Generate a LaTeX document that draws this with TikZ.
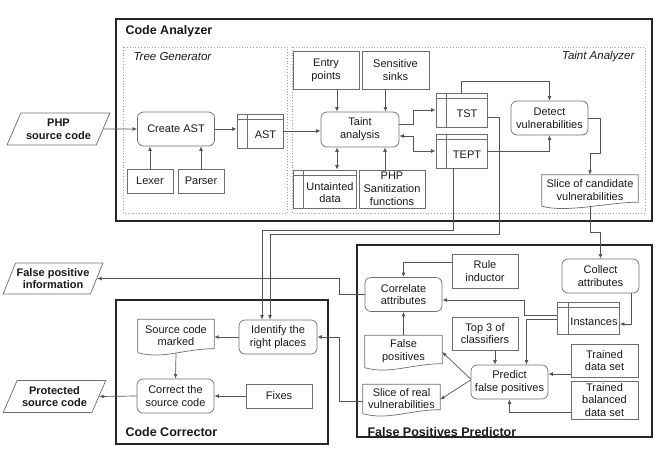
\documentclass[tikz,border=0pt]{standalone}
\usepackage{fontspec}
\setmainfont{Liberation Sans}
\usetikzlibrary{arrows.meta,shapes.geometric}

\definecolor{linegray}{HTML}{555555}
\definecolor{boxgray}{HTML}{6E6E6E}

\newcommand{\docshape}[1]{%
  \draw[boxgray, line width=0.7pt] (#1.north west) -- (#1.north east) -- ([yshift=3pt]#1.south east)
    .. controls ([xshift=-30pt,yshift=3pt]#1.south east) and ([xshift=25pt,yshift=-8pt]#1.south west)
    .. ([yshift=-1pt]#1.south west) -- cycle;}

\begin{document}
\begin{tikzpicture}[x=1pt, y=-1pt,
	every node/.style={font=\fontsize{11}{12.8}\selectfont, text=black!90},
	proc/.style={draw=boxgray, line width=0.7pt, rounded corners=6pt, align=center, minimum width=77pt, minimum height=34pt, inner sep=1pt},
	box/.style={draw=boxgray, line width=0.7pt, align=center, inner sep=1pt},
	store/.style={draw=boxgray, line width=0.7pt, inner sep=0pt, path picture={
		\draw[boxgray, line width=0.7pt] ([yshift=-5.5pt]path picture bounding box.north west) -- ([yshift=-5.5pt]path picture bounding box.north east)
		([xshift=10.5pt]path picture bounding box.north west) -- ([xshift=10.5pt]path picture bounding box.south west);}},
	storetext/.style={xshift=5.5pt, yshift=-3.5pt, align=center},
	doc/.style={align=center, inner sep=1pt},
	inout/.style={draw=boxgray, line width=0.7pt, trapezium, trapezium left angle=60, trapezium right angle=120, trapezium stretches=true, minimum width=103pt, minimum height=32pt, align=center, inner sep=0pt, font=\bfseries\fontsize{11}{12.8}\selectfont},
	group/.style={draw=black!85, line width=1.1pt},
	subgroup/.style={draw=gray!75, dotted, line width=0.8pt},
	title/.style={anchor=west, font=\bfseries\fontsize{12.5}{14}\selectfont},
	subtitle/.style={font=\itshape\fontsize{11.5}{13}\selectfont},
	arr/.style={draw=linegray, line width=0.7pt, -{Latex[length=4.5pt,width=3.8pt]}},
	darr/.style={draw=linegray, line width=0.7pt, {Latex[length=4.5pt,width=3.8pt]}-{Latex[length=4.5pt,width=3.8pt]}}]
	\useasboundingbox (0,0) rectangle (656,448);

	% Frames:
	\draw[group] (116,19) rectangle (652,221);
	\draw[subgroup] (123,47) rectangle (287,213);
	\draw[subgroup] (292,47) rectangle (645,213);
	\draw[group] (116,300) rectangle (328,444);
	\draw[group] (357,245) rectangle (652,437);
	\node[title] (analyzertitle) at (122,31) {Code Analyzer};
	\node[subtitle, anchor=west] (treetitle) at (130,57) {Tree Generator};
	\node[subtitle, anchor=east] (tainttitle) at (638,57) {Taint Analyzer};
	\node[title] (correctortitle) at (122,432) {Code Corrector};
	\node[title] (predictortitle) at (364,432) {False Positives Predictor};

	% Code analyzer:
	\node[inout] (php) at (58.5,129) {PHP\\source code};
	\node[proc] (create) at (176,129) {Create AST};
	\node[box, minimum width=46pt, minimum height=24pt] (lexer) at (150,181) {Lexer};
	\node[box, minimum width=46pt, minimum height=24pt] (parser) at (201,181) {Parser};
	\node[store, minimum width=46pt, minimum height=34pt, label={[storetext]center:AST}] (ast) at (260,131) {};
	\node[box, minimum width=66pt, minimum height=38pt] (entry) at (326,70) {Entry\\points};
	\node[box, minimum width=67pt, minimum height=38pt] (sinks) at (395.5,70) {Sensitive\\sinks};
	\node[proc, minimum width=78pt, minimum height=35pt] (taint) at (360,129.5) {Taint\\analysis};
	\node[store, minimum width=63pt, minimum height=38pt, label={[storetext]center:Untainted\\data}] (untainted) at (324.5,189) {};
	\node[box, minimum width=66pt, minimum height=38pt] (sanit) at (392,189) {PHP\\Sanitization\\functions};
	\node[store, minimum width=51pt, minimum height=34pt, label={[storetext]center:TST}] (tst) at (461.5,110) {};
	\node[store, minimum width=51pt, minimum height=34pt, label={[storetext]center:TEPT}] (tept) at (461.5,151) {};
	\node[proc] (detect) at (549.5,118) {Detect\\vulnerabilities};
	\node[doc, minimum width=96pt, minimum height=30pt] (candidates) at (590,190) {Slice of candidate\\vulnerabilities};
	\docshape{candidates}

	% Code corrector:
	\node[proc, minimum width=78pt] (identify) at (278,337) {Identify the\\right places};
	\node[doc, minimum width=76pt, minimum height=32pt] (marked) at (176,335.5) {Source code\\marked};
	\docshape{marked}
	\node[proc] (correct) at (175.5,396) {Correct the\\source code};
	\node[box, minimum width=66pt, minimum height=24pt] (fixes) at (279,396) {Fixes};
	\node[inout] (protected) at (54.5,396.5) {Protected\\source code};
	\node[inout, minimum width=100pt, minimum height=31pt] (fpinfo) at (53,278.5) {False positive\\information};

	% False positives predictor:
	\node[box, minimum width=66pt, minimum height=34pt] (rule) at (485,271) {Rule\\inductor};
	\node[proc] (correlate) at (403.5,294.5) {Correlate\\attributes};
	\node[proc] (collect) at (600.5,276) {Collect\\attributes};
	\node[store, minimum width=62pt, minimum height=32pt, label={[storetext]center:Instances}] (instances) at (588.5,318) {};
	\node[box, minimum width=66pt, minimum height=33pt] (top3) at (485,333.5) {Top 3 of\\classifiers};
	\node[proc] (predict) at (509.5,382) {Predict\\false positives};
	\node[box, minimum width=67pt, minimum height=33pt] (trained) at (604.5,360.5) {Trained\\data set};
	\node[box, minimum width=67pt, minimum height=38pt] (balanced) at (604.5,400) {Trained\\balanced\\data set};
	\node[doc, minimum width=77pt, minimum height=31pt] (falsepos) at (403.5,351) {False\\positives};
	\docshape{falsepos}
	\node[doc, minimum width=77pt, minimum height=28pt] (realslice) at (401.5,398.5) {Slice of real\\vulnerabilities};
	\docshape{realslice}

	% Wires:
	\draw[arr] (php.east) -- (create.west);
	\draw[arr] (create.east) -- (create.east -| ast.west);
	\draw[arr] (ast.east) -- (ast.east -| taint.west);
	\draw[arr] (lexer.north) -- (lexer.north |- create.south);
	\draw[arr] (parser.north) -- (parser.north |- create.south);
	\draw[arr] ([xshift=11pt]entry.south) -- ([xshift=11pt]entry.south |- taint.north);
	\draw[arr] ([xshift=-10pt]sinks.south) -- ([xshift=-10pt]sinks.south |- taint.north);
	\draw[darr] ([xshift=12.5pt]untainted.north) -- ([xshift=12.5pt]untainted.north |- taint.south);
	\draw[arr] ([xshift=-7pt]sanit.north) -- ([xshift=-7pt]sanit.north |- taint.south);
	\draw[arr] ([yshift=5pt]taint.east) -- ++(14,0) |- (tst.west);
	\draw[darr] ([yshift=-6.5pt]taint.east) -- ++(14,0) |- (tept.west);
	\draw[arr] (tst.north) -- ++(0,-11) -| (detect.north);
	\draw[arr] (tept.east) -| (detect.south);
	\draw[arr] (detect.east) -- ++(12,0) -- ++(0,35) -| (candidates.north);
	\draw[arr] ([yshift=-1.6pt]candidates.south) -- ++(0,26) -| (collect.north);
	\draw[arr] ([yshift=-7pt]tst.east) -| ++(12,117) -| ([xshift=-8pt]identify.north);
	\draw[arr] ([xshift=-8.5pt]tept.south) -- ++(0,62) -| ([xshift=-16pt]identify.north);
	\draw[arr] (correlate.west) -- ++(-25,0) |- (fpinfo.east);
	\draw[arr] ([yshift=9pt]rule.west) -| (correlate.north);
	\draw[arr] ([xshift=31pt]collect.south) |- ([yshift=-6pt]instances.east);
	\draw[arr] ([yshift=3pt]instances.west) -- ++(-33,0) |- ([yshift=-5.5pt]correlate.east);
	\draw[arr] ([yshift=-1pt]instances.west) -| ([xshift=17pt]predict.north);
	\draw[arr] ([xshift=10pt]top3.south) -- ([xshift=10pt]top3.south |- predict.north);
	\draw[arr] ([yshift=-13.5pt]trained.west) -- ([yshift=-13.5pt]trained.west -| predict.east);
	\draw[arr] ([yshift=-12pt]balanced.west) -| (predict.south);
	\draw[arr] (falsepos.north) -- (correlate.south);
	\draw[arr] ([yshift=3pt]predict.west) -- ([yshift=-1pt]falsepos.east);
	\draw[arr] ([yshift=2pt]predict.west) -- ([yshift=-1pt]realslice.east);
	\draw[arr] ([yshift=-3pt]realslice.west) -- ++(-23,0) |- (identify.east);
	\draw[arr] (identify.west) -- (identify.west -| marked.east);
	\draw[arr] ([yshift=-1.6pt]marked.south) -- (correct.north);
	\draw[arr] (fixes.west) -- (correct.east);
	\draw[arr] (correct.west) -- (protected.east);
\end{tikzpicture}
\end{document}
